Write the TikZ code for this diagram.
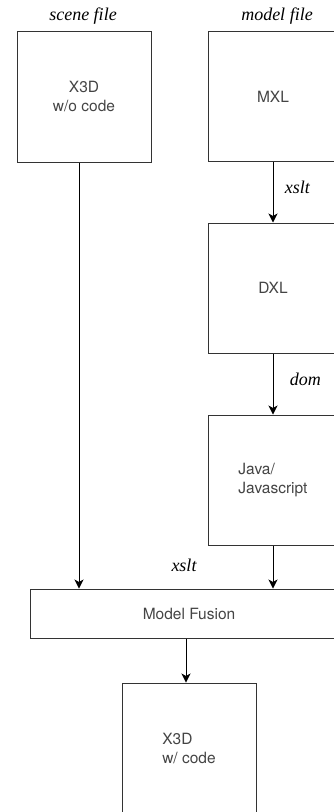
\documentclass[tikz,border=0pt]{standalone}
\usepackage{fontspec}
\setmainfont{Liberation Serif}
\setsansfont{TeX Gyre Heros}
\usepackage{xcolor}
\usepackage{tikz}
\usetikzlibrary{positioning, arrows.meta, calc}

\definecolor{boxline}{HTML}{333333}
\definecolor{boxtext}{HTML}{444444}

\begin{document}
\begin{tikzpicture}[
    x=1pt, y=-1pt,
    block/.style={rectangle, draw=boxline, line width=1pt, minimum width=134pt, minimum height=131pt, align=center, text=boxtext, font=\sffamily\fontsize{15.5}{19}\selectfont},
    chain/.style={block, minimum width=130pt, minimum height=130pt},
    tag/.style={font=\itshape\fontsize{18}{20}\selectfont, text=black},
    arrow/.style={-{Stealth[length=9pt, width=9pt, inset=2.5pt]}, line width=1pt}
]
\useasboundingbox (0,0) rectangle (334,812);
\clip (0,0) rectangle (334,812);

% file kinds on top
\node[tag] (scenelbl) at (83,16) {scene file};
\node[tag] (modellbl) at (277,16) {model file};

% left column
\node[block] (scene) at (84,96.5) {X3D\\w/o code};

% right column: model transformation chain
\node[chain] (mxl) at (273,96.5) {MXL};
\node[chain] (dxl) at (273,288) {DXL};
\node[chain, align=left] (java) at (273,480) {Java/\\Javascript};

% merge and result
\node[block, minimum width=318pt, minimum height=49pt] (fusion) at (189,613.5) {Model Fusion};
\node[block, minimum height=130pt, align=left] (result) at (189,748) {X3D\\w/ code};

\node[tag] (fuselbl) at (184,565) {xslt};

\draw[arrow] (mxl) -- (dxl) node[pos=0.42, anchor=west, xshift=8pt, tag] {xslt};
\draw[arrow] (dxl) -- (java) node[pos=0.43, anchor=west, xshift=13pt, tag] {dom};
\draw[arrow] ([xshift=-5pt]scene.south) -- ([xshift=-5pt]scene.south |- fusion.north);
\draw[arrow] (java) -- (java |- fusion.north);
\draw[arrow] ([xshift=-3pt]fusion.south) -- ([xshift=-3pt]result.north);

\end{tikzpicture}
\end{document}
